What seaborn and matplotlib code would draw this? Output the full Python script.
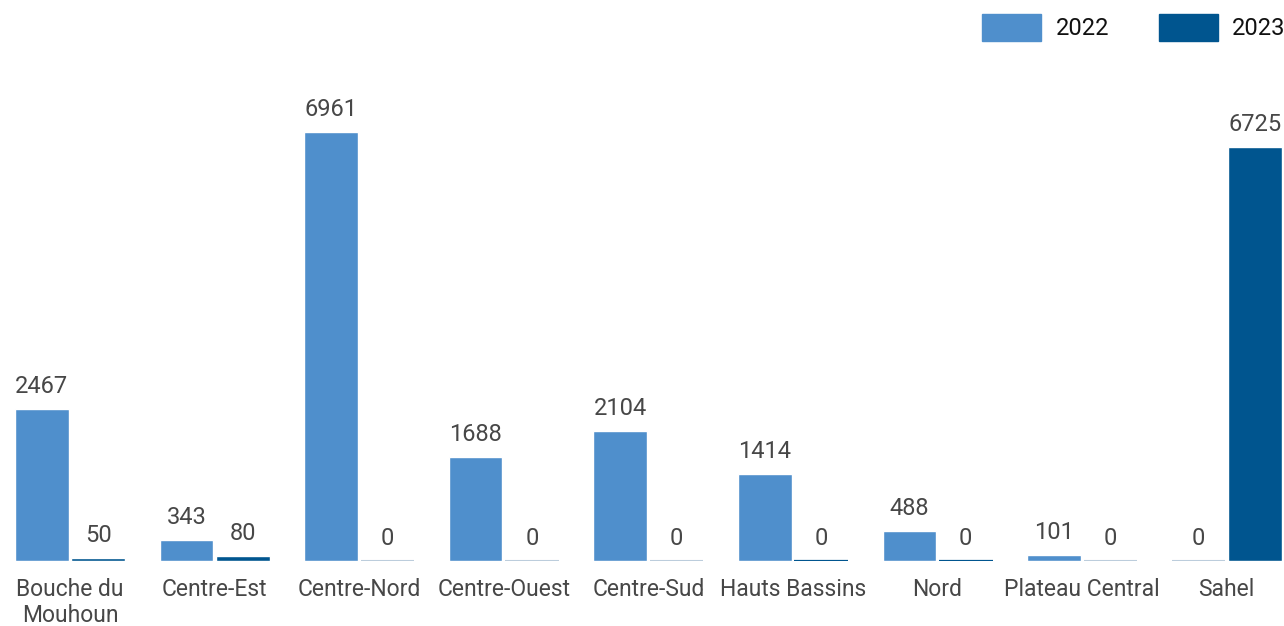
import numpy as np
import pandas as pd
import matplotlib
matplotlib.use('Agg')
import matplotlib.pyplot as plt
import seaborn as sns
from matplotlib.patches import Patch

# data
regions = ['Bouche du\nMouhoun', 'Centre-Est', 'Centre-Nord', 'Centre-Ouest', 'Centre-Sud',
           'Hauts Bassins', 'Nord', 'Plateau Central', 'Sahel']
vals_2022 = [2467, 343, 6961, 1688, 2104, 1414, 488, 101, 0]
vals_2023 = [50, 80, 0, 0, 0, 0, 0, 0, 6725]
years = ['2022', '2023']

df = pd.DataFrame({
    'Region': regions * 2,
    'Year': ['2022'] * len(regions) + ['2023'] * len(regions),
    'Value': vals_2022 + vals_2023,
})

sns.set_theme(style='white')
plt.rcParams['font.family'] = ['Roboto', 'DejaVu Sans']

colors = {'2022': '#4f8fcc', '2023': '#00558f'}
txt = '#474747'

fig = plt.figure(figsize=(12.84, 6.26), dpi=100)
ax = fig.add_axes([0, 65 / 626, 1, 501 / 626])

sns.barplot(data=df, x='Region', y='Value', hue='Year', hue_order=years,
            palette=colors, saturation=1, width=0.78, gap=0.05, ax=ax, legend=False)

# zero bars show as a thin line on the baseline
for cont, yr in zip(ax.containers, years):
    for i, p in enumerate(cont.patches):
        if p.get_height() == 0:
            dark = yr == '2023' and regions[i] in ('Hauts Bassins', 'Nord')
            ax.plot([p.get_x(), p.get_x() + p.get_width()], [0, 0],
                    color='#00558f' if dark else '#bccddc', lw=1.6 if dark else 1.5,
                    solid_capstyle='butt', zorder=3)
    ax.bar_label(cont, fmt='%d', padding=8, fontsize=17, color=txt)

ax.set_xlim(-0.484, 8.396)
ax.set_ylim(0, 8133)
ax.set_xlabel('')
ax.set_ylabel('')
ax.set_yticks([])
ax.tick_params(axis='x', length=0, pad=12, labelsize=16.5, labelcolor=txt)
sns.despine(ax=ax, left=True, bottom=True, top=True, right=True)

handles = [Patch(color=colors[y], label=y) for y in years]
fig.legend(handles=handles, loc='upper right', bbox_to_anchor=(1.012, 1.0), ncol=2,
           frameon=False, fontsize=17, handlelength=2.5, handleheight=1.35,
           handletextpad=0.6, columnspacing=2.1, borderaxespad=0.3, borderpad=0.3,
           labelcolor='#111111')

fig.savefig('out.png', dpi=100)
